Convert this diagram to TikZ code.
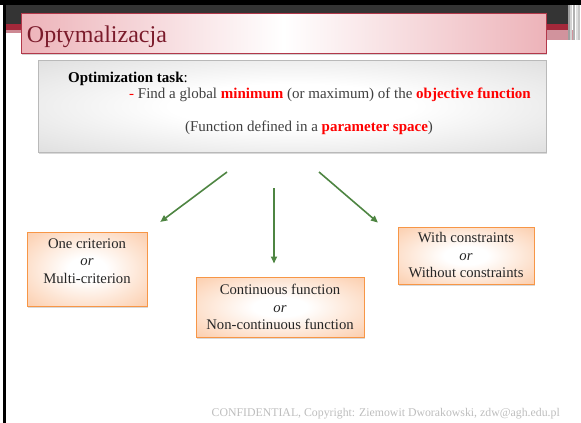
\documentclass[tikz,border=0pt]{standalone}
\usepackage{fontspec}
\setmainfont{Liberation Serif}
\usetikzlibrary{arrows.meta,shadows}
\definecolor{bardark}{HTML}{343434}
\definecolor{slidered}{HTML}{A3283A}
\definecolor{titleedge}{HTML}{B2384A}
\definecolor{titlepink}{HTML}{EDB3B9}
\definecolor{titletext}{HTML}{7B1B2B}
\definecolor{bodytext}{HTML}{404040}
\definecolor{boxorange}{HTML}{F79646}
\definecolor{boxpeach}{HTML}{FBC29A}
\definecolor{taskgray}{HTML}{D4D4D4}
\definecolor{arrowgreen}{HTML}{4E8542}
\definecolor{footgray}{HTML}{BDBDBD}
\pgfdeclareradialshading{peachglow}{\pgfpoint{0bp}{0bp}}{color(0bp)=(white); color(8bp)=(white); color(42bp)=(boxpeach); color(75bp)=(boxpeach)}
\pgfdeclareradialshading{grayglow}{\pgfpoint{0bp}{0bp}}{color(0bp)=(white); color(12bp)=(white); color(44bp)=(taskgray); color(75bp)=(taskgray)}

\begin{document}
\begin{tikzpicture}[x=1pt, y=-1pt,
    titlebox/.style ={draw=titleedge, line width=0.8pt, left color=titlepink, right color=titlepink, middle color=white,
        minimum width=525pt, minimum height=40pt, text width=513pt, inner xsep=6pt, align=left,
        text height=18pt, text depth=0pt, text=titletext, font=\fontsize{24}{28}\selectfont,
        drop shadow={opacity=0.35, shadow xshift=1pt, shadow yshift=-1.5pt}},
    taskbox/.style ={draw=gray!55, line width=0.8pt, shading=grayglow,
        minimum width=508pt, minimum height=92pt,
        drop shadow={opacity=0.3, shadow xshift=1pt, shadow yshift=-1.5pt}},
    tasktext/.style ={inner sep=0pt, text=bodytext, font=\fontsize{15}{18}\selectfont},
    choice/.style ={draw=boxorange, line width=1pt, shading=peachglow,
        align=center, text=black!85, font=\fontsize{14.7}{17.5}\selectfont,
        drop shadow={opacity=0.3, shadow xshift=1pt, shadow yshift=-1.5pt}},
    flow/.style ={draw=arrowgreen, line width=1.6pt, -{Triangle[length=7pt, width=6pt]}}]

   \useasboundingbox (0,0) rectangle (581,423);
   \fill[black] (0,0) rectangle (581,5);
   \fill[bardark] (6,5) rectangle (568,24);
   \fill[slidered] (6,24) rectangle (568,30);
   \fill[slidered!55] (6,30) rectangle (575,33);
   \fill[slidered!50] (546,30) rectangle (575,40);
   \foreach \x/\c in {568/gray!75, 570/gray!35, 573/gray!60, 576/gray!25, 578/gray!45}
      \fill[\c] (\x,5) rectangle (\x+2,40);
   \fill[black] (3,0) rectangle (6,423);

   \node[titlebox] (title) at (283.5,33) {Optymalizacja};

   \node[taskbox] (task) at (292,106) {};
   \node[tasktext, anchor=base west, text=black] (tasklbl) at (68,82) {\textbf{Optimization task}:};
   \node[tasktext, anchor=base west] (taskgoal) at (129,98)
      {\textcolor{red}{-} Find a global \textcolor{red}{\textbf{minimum}} (or maximum) of the \textcolor{red}{\textbf{objective function}}};
   \node[tasktext, anchor=base] (taskspace) at (309,131.5)
      {(Function defined in a \textcolor{red}{\textbf{parameter space}})};

   \node[choice, minimum width=120pt, minimum height=74pt] (crit) at (87,269)
      {One criterion\\\textit{or}\\Multi-criterion\rule[-16pt]{0pt}{16pt}};
   \node[choice, minimum width=168pt, minimum height=60pt] (cont) at (280,307)
      {Continuous function\\\textit{or}\\Non-continuous function};
   \node[choice, minimum width=136pt, minimum height=57pt] (constr) at (466,255.5)
      {With constraints\\\textit{or}\\Without constraints};

   \coordinate (fromL) at (227,172);
   \coordinate (fromM) at (274,188);
   \coordinate (fromR) at (319,172);

   \draw[flow, shorten >=16pt] (fromL) to (crit.north east);
   \draw[flow, shorten >=13pt] (fromM) to (fromM |- cont.north);
   \draw[flow, shorten >=6pt] (fromR) to ([xshift=-15pt]constr.north west);

   \node[anchor=base east, inner sep=0pt, text=footgray, font=\fontsize{11.8}{14}\selectfont] (footer) at (560,416)
      {CONFIDENTIAL, Copyright: Ziemowit Dworakowski, zdw@agh.edu.pl};

 \end{tikzpicture}
\end{document}
